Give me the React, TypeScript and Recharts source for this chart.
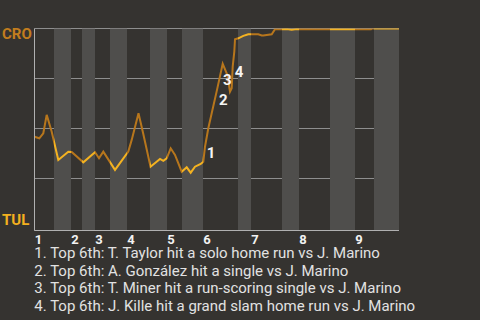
import { LineChart, Line, XAxis, YAxis, CartesianGrid, ReferenceArea, ReferenceDot } from "recharts";

// play sequence position (0..END) and CRO win probability (%)
const END = 364.5;
const playPos = [
  0, 4.8, 8.8, 12.2, 17.2, 23.8, 33.8, 37.2, 48.8, 60.5, 64.5, 68.8, 80.5, 93.8, 97.2, 104, 108.8, 116,
  125.5, 128.8, 132.2, 136.2, 140.5, 147.2, 152.2, 156.2, 160.5, 166.2, 168.8, 170.5, 173.8, 177.2,
  182.5, 188.2, 192.8, 195.5, 197.2, 198.2, 199.8, 200.5, 203.8, 208.8, 213.8, 223.8, 227.2, 228.8,
  237.2, 240.5, 247.2, 252.2, 257.2, 262.2, 336.5, 337.5, 364.5,
];
const winProb = [
  45.9, 45.1, 47.6, 56.8, 48.4, 34.3, 38.4, 38.3, 33.1, 38.1, 35.1, 38.4, 29.3, 38.5, 44.3, 57.6, 47.3, 30.9,
  34.8, 33.8, 35.1, 40.1, 36.8, 28.4, 30.6, 27.9, 30.9, 32.3, 33.4, 40.9, 50.1, 57.6,
  69.3, 82.3, 76.8, 68.4, 70.1, 80.9, 88.4, 94.6, 95.1, 96.3, 97.1, 97.1, 96.5, 96.5,
  97.1, 99.6, 99.6, 99.8, 99.4, 99.7, 99.6, 100, 100,
];

// start of each inning, and start of its bottom half
const inningStart = [0, 36.5, 60.5, 92.5, 132.5, 168.5, 216.5, 264.5, 320.5];
const bottomStart = [19.5, 47.5, 75.5, 115.5, 147.5, 203.5, 247.5, 295.5, 339.5];

const events = [
  { n: "1", pos: 176.5, wp: 37.75, text: "Top 6th: T. Taylor hit a solo home run vs J. Marino" },
  { n: "2", pos: 188.8, wp: 64.25, text: "Top 6th: A. González hit a single vs J. Marino" },
  { n: "3", pos: 192.8, wp: 74.25, text: "Top 6th: T. Miner hit a run-scoring single vs J. Marino" },
  { n: "4", pos: 204.5, wp: 78.25, text: "Top 6th: J. Kille hit a grand slam home run vs J. Marino" },
];

const BG = "#353330";
const BAND = "#4f4e4c";
const DARK = "#b7761c";
const BRIGHT = "#f4b220";
const FONT = "Roboto, sans-serif";

// plot box in px (from margins below)
const PLOT_L = 34.5;
const PLOT_R = 399;

const data = playPos.map((p, i) => ({ pos: p, wp: winProb[i] }));

function XTick({ x, y, payload }: any) {
  const i = inningStart.indexOf(payload.value);
  return (
    <text x={x + 0.3} y={y + 5.5} textAnchor="start" fill="#f2f2f2" fontSize={13} fontWeight="bold" fontFamily={FONT}>
      {i + 1}
    </text>
  );
}

function YTick({ y, payload }: any) {
  if (payload.value === 100)
    return <text x={2} y={y + 10.8} fill="#c27d1e" fontSize={15} fontWeight="bold" fontFamily={FONT}>CRO</text>;
  if (payload.value === -1)
    return <text x={2} y={y - 5.5} fill="#f3b01f" fontSize={15} fontWeight="bold" fontFamily={FONT}>TUL</text>;
  return null;
}

export default function App() {
  // hard-edged gradient: dark in top halves, bright in bottom halves
  const stops: { o: number; c: string }[] = [];
  inningStart.forEach((s, i) => {
    const b = bottomStart[i];
    const e = i + 1 < inningStart.length ? inningStart[i + 1] : END;
    stops.push({ o: s / END, c: DARK }, { o: b / END, c: DARK }, { o: b / END, c: BRIGHT }, { o: e / END, c: BRIGHT });
  });

  return (
    <div style={{ position: "fixed", left: 0, top: 0, width: 480, height: 320, background: BG, overflow: "hidden" }}>
      <LineChart width={480} height={250} data={data} margin={{ top: 28.5, right: 480 - PLOT_R, left: 0, bottom: 0 }}>
        <defs>
          <linearGradient id="wpGrad" gradientUnits="userSpaceOnUse" x1={PLOT_L} y1={0} x2={PLOT_R} y2={0}>
            {stops.map((s, i) => <stop key={i} offset={s.o} stopColor={s.c} />)}
          </linearGradient>
        </defs>
        {bottomStart.map((b, i) => (
          <ReferenceArea key={i} x1={b} x2={i + 1 < inningStart.length ? inningStart[i + 1] : END}
            fill={BAND} fillOpacity={1} stroke="none" ifOverflow="hidden" />
        ))}
        <CartesianGrid vertical={false} stroke="#8e8e8e" strokeWidth={1} />
        <XAxis dataKey="pos" type="number" domain={[0, END]} ticks={inningStart} tick={<XTick />}
          tickLine={false} axisLine={{ stroke: "#b0b0b0" }} height={19.5} interval={0} />
        <YAxis type="number" domain={[-1, 100]} ticks={[-1, 25, 50, 75, 100]} allowDataOverflow width={PLOT_L}
          tick={<YTick />} tickLine={false} axisLine={{ stroke: "#b0b0b0" }} interval={0} />
        <Line type="linear" dataKey="wp" stroke="url(#wpGrad)" strokeWidth={2} dot={false} isAnimationActive={false} />
        {events.map(ev => (
          <ReferenceDot key={ev.n} x={ev.pos} y={ev.wp} r={1}
            shape={(p: any) => (
              <text x={p.cx} y={p.cy} textAnchor="middle" dominantBaseline="central" fill="#f4f4f4"
                fontSize={15} fontWeight="bold" fontFamily={FONT}>{ev.n}</text>
            )} />
        ))}
      </LineChart>
      <div style={{ position: "absolute", left: 34.3, top: 245, fontFamily: FONT, fontSize: 15, lineHeight: "17.7px", color: "#e2e2e2", whiteSpace: "nowrap" }}>
        {events.map(ev => <div key={ev.n}>{ev.n}. {ev.text}</div>)}
      </div>
    </div>
  );
}
